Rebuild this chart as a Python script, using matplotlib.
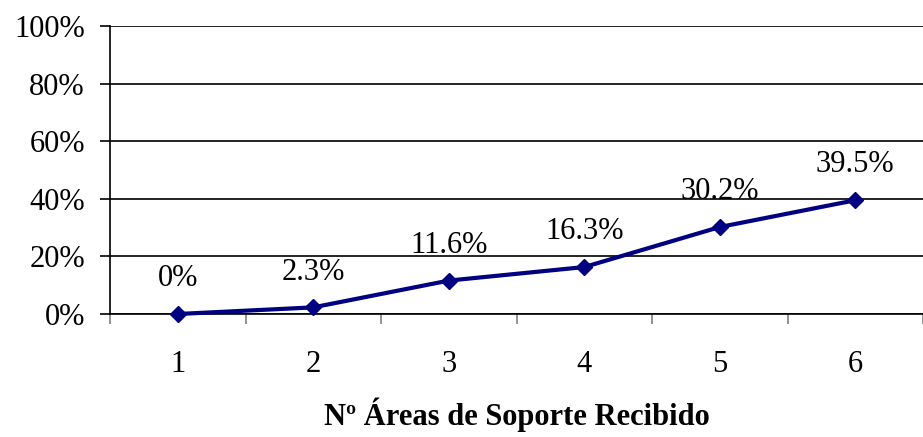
import matplotlib
matplotlib.use('Agg')
import matplotlib.pyplot as plt
import numpy as np
from matplotlib.ticker import FixedLocator, PercentFormatter

# datos del gráfico
areas = [1, 2, 3, 4, 5, 6]
porcentaje = [0.0, 2.3, 11.6, 16.3, 30.2, 39.5]
etiquetas = ['0%', '2.3%', '11.6%', '16.3%', '30.2%', '39.5%']
y_ticks = [0, 20, 40, 60, 80, 100]

plt.rcParams['font.family'] = ['Liberation Serif', 'DejaVu Serif']
FS = 22

fig = plt.figure(figsize=(9.23, 4.37), dpi=100)
ax = fig.add_axes([110 / 923, 1 - 314 / 437, 813 / 923, 288 / 437])

ax.plot(areas, porcentaje, '-', color='#000080', linewidth=3,
        marker='D', markersize=8, zorder=3, clip_on=False)
for x, y, lab in zip(areas, porcentaje, etiquetas):
    ax.annotate(lab, (x, y), textcoords='offset points', xytext=(0, 15),
                ha='center', va='bottom', fontsize=FS)

ax.set_xlim(0.5, 6.5)
ax.set_ylim(0, 100)
ax.set_yticks(y_ticks)
ax.yaxis.set_major_formatter(PercentFormatter(decimals=0))
ax.grid(True, axis='y', color='black', linewidth=1.2)
ax.set_axisbelow(True)

ax.set_xticks(areas)
ax.xaxis.set_minor_locator(FixedLocator(np.arange(0.5, 7, 1)))
ax.tick_params(axis='x', which='major', length=0, pad=26, labelsize=FS)
ax.tick_params(axis='x', which='minor', length=7, width=1.2, color='#808080',
               direction='out')
ax.tick_params(axis='y', length=7, width=1.2, pad=11, labelsize=FS)

for s in ['top', 'right']:
    ax.spines[s].set_visible(False)
ax.spines['left'].set_linewidth(1.2)
ax.spines['bottom'].set_linewidth(1.2)

ax.set_xlabel('Nº Áreas de Soporte Recibido', fontsize=FS, fontweight='bold',
              labelpad=13)

plt.savefig('out.png', dpi=100)
plt.close()
